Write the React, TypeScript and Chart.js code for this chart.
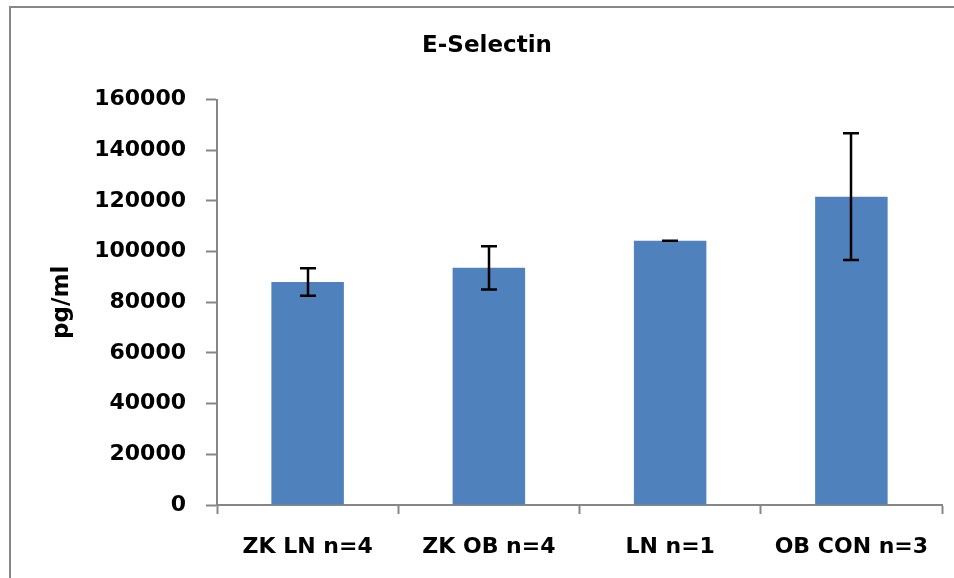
import React, { useEffect, useRef } from "react";
import { Chart, registerables } from "chart.js";

Chart.register(...registerables);

const categories = ["ZK LN n=4", "ZK OB n=4", "LN n=1", "OB CON n=3"];
const means = [88000, 93600, 104300, 121700];
const errors = [5400, 8500, 0, 25000];
const yTicks = [0, 20000, 40000, 60000, 80000, 100000, 120000, 140000, 160000];

const FONT = "'DejaVu Sans', sans-serif";

const errorBarPlugin = {
  id: "errorBars",
  afterDatasetsDraw(chart: any) {
    const ctx = chart.ctx;
    const meta = chart.getDatasetMeta(0);
    const y = chart.scales.y;
    ctx.save();
    ctx.strokeStyle = "#000000";
    ctx.lineWidth = 2.5;
    meta.data.forEach((bar: any, i: number) => {
      const x = Math.round(bar.x);
      const yTop = y.getPixelForValue(means[i] + errors[i]);
      const yBot = y.getPixelForValue(means[i] - errors[i]);
      const cap = 8;
      ctx.beginPath();
      ctx.moveTo(x, yTop);
      ctx.lineTo(x, yBot);
      ctx.moveTo(x - cap, yTop);
      ctx.lineTo(x + cap, yTop);
      ctx.moveTo(x - cap, yBot);
      ctx.lineTo(x + cap, yBot);
      ctx.stroke();
    });
    ctx.restore();
  },
};

export default function App() {
  const ref = useRef<HTMLCanvasElement | null>(null);
  useEffect(() => {
    if (!ref.current) return;
    const chart = new Chart(ref.current, {
      type: "bar",
      data: {
        labels: categories,
        datasets: [
          {
            data: means,
            backgroundColor: "#4F81BD",
            borderWidth: 0,
            categoryPercentage: 0.4,
            barPercentage: 1,
          },
        ],
      },
      options: {
        responsive: false,
        animation: false,
        layout: { padding: { left: 32, right: 12, top: 0, bottom: 0 } },
        plugins: {
          legend: { display: false },
          tooltip: { enabled: false },
          title: {
            display: true,
            text: "E-Selectin",
            color: "#000000",
            font: { family: FONT, size: 23, weight: "bold" },
            padding: { top: 32, bottom: 40 },
          },
        },
        scales: {
          x: {
            grid: {
              display: true,
              drawOnChartArea: false,
              drawTicks: true,
              tickLength: 9,
              tickWidth: 2,
              tickColor: "#868686",
              offset: true,
            },
            border: { display: true, color: "#868686", width: 2 },
            ticks: {
              color: "#000000",
              font: { family: FONT, size: 22, weight: "bold" },
              padding: 20,
              maxRotation: 0,
            },
            afterFit: (scale: any) => {
              scale.height = 73;
            },
          },
          y: {
            min: 0,
            max: 160000,
            afterBuildTicks: (scale: any) => {
              scale.ticks = yTicks.map((v) => ({ value: v }));
            },
            grid: {
              display: true,
              drawOnChartArea: false,
              drawTicks: true,
              tickLength: 11,
              tickWidth: 2,
              tickColor: "#868686",
            },
            border: { display: true, color: "#868686", width: 2 },
            ticks: {
              color: "#000000",
              font: { family: FONT, size: 22, weight: "bold" },
              padding: 20,
              callback: (v: any) => String(v),
            },
            title: {
              display: true,
              text: "pg/ml",
              color: "#000000",
              font: { family: FONT, size: 23, weight: "bold" },
              padding: { top: 16, bottom: 0 },
            },
            afterFit: (scale: any) => {
              scale.width = 185;
            },
          },
        },
      },
      plugins: [errorBarPlugin],
    });
    return () => chart.destroy();
  }, []);

  return (
    <div style={{ position: "fixed", left: 0, top: 0, width: 954, height: 578, background: "#ffffff" }}>
      <div
        style={{
          position: "absolute",
          left: 9,
          top: 6,
          width: 1000,
          height: 1000,
          borderLeft: "2px solid #878787",
          borderTop: "2px solid #878787",
          boxSizing: "border-box",
        }}
      />
      <canvas ref={ref} width={954} height={578} style={{ position: "absolute", left: 0, top: 0 }} />
    </div>
  );
}
